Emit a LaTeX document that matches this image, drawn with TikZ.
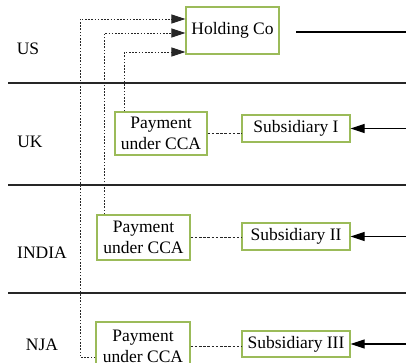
\documentclass[tikz,border=0pt]{standalone}
\usepackage{fontspec}
\setmainfont{Liberation Serif}
\usetikzlibrary{arrows.meta}
\definecolor{boxgreen}{RGB}{155,187,89}
\begin{document}
\begin{tikzpicture}[x=1pt,y=-1pt,
  font=\fontsize{17.5}{21}\selectfont,
  box/.style={draw=boxgreen,line width=1.2pt,inner sep=0pt,align=center,fill=white},
  region/.style={anchor=center},
  separator/.style={black!85,line width=1.3pt},
  dotflow/.style={black!85,line width=0.9pt,dash pattern=on 1.6pt off 1.6pt},
  dashlink/.style={black!85,line width=0.9pt,dash pattern=on 2.6pt off 1.6pt},
  tip/.style={-{Triangle[length=14pt,width=9pt]}},
  feed/.style={black,line width=1.1pt}]
\useasboundingbox (0,0) rectangle (406,362);
\clip (0,0) rectangle (406,362);

% country bands
\draw[separator] (8,83) -- (406,83);
\draw[separator] (8,185) -- (406,185);
\draw[separator] (8,293) -- (406,293);

\node[region] (us) at (28,49) {US};
\node[region] (uk) at (30,142) {UK};
\node[region] (india) at (42,253) {INDIA};
\node[region] (nja) at (42,345) {NJA};

% entities
\node[box,minimum width=93pt,minimum height=47pt] (hold) at (232.5,30.5) {Holding Co};
\node[box,minimum width=92pt,minimum height=43pt] (ukpay) at (161,133.5) {Payment\\under CCA};
\node[box,minimum width=108pt,minimum height=27pt] (sub1) at (296,128.5) {Subsidiary I};
\node[box,minimum width=93pt,minimum height=45pt] (inpay) at (143.5,237.5) {Payment\\under CCA};
\node[box,minimum width=108pt,minimum height=27pt] (sub2) at (296,236.5) {Subsidiary II};
\node[box,minimum width=94pt,minimum height=48pt] (njpay) at (143,346) {Payment\\under CCA};
\node[box,minimum width=108pt,minimum height=26pt] (sub3) at (296,344) {Subsidiary III};

% outgoing line from the holding company
\coordinate (hl) at (296,32);
\coordinate (hr) at (406,32);
\draw[feed] (hl) -- (hr);

% incoming flows to the subsidiaries
\coordinate (in1) at (406,128.5);
\coordinate (in2) at (406,236.5);
\coordinate (in3) at (406,344);
\draw[feed,tip] (in1) -- (sub1);
\draw[feed,tip] (in2) -- (sub2);
\draw[feed,tip] (in3) -- (sub3);

% payments linked to subsidiaries
\draw[dashlink] (ukpay.east) -- (ukpay.east -| sub1.west);
\draw[dashlink] (inpay.east) -- (inpay.east -| sub2.west);
\draw[dashlink] (njpay.east) -- (njpay.east -| sub3.west);

% payments routed up to the holding company
\draw[dotflow,tip] ([yshift=-11pt]njpay.west) -| (80,19) -- ([yshift=11.5pt]hold.west);
\draw[dotflow,tip] ([xshift=8pt]inpay.north west) |- ([yshift=-2.5pt]hold.west);
\draw[dotflow,tip] ([xshift=10pt]ukpay.north west) |- ([yshift=-21.5pt]hold.west);
\end{tikzpicture}
\end{document}
